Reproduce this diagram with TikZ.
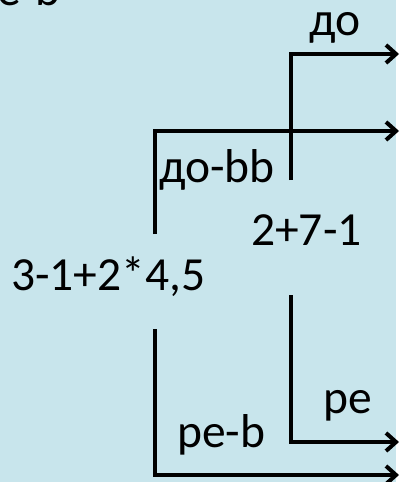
\documentclass[tikz,border=0pt]{standalone}
\usepackage{fontspec}
\setmainfont{Carlito}
\usetikzlibrary{arrows.meta}
\definecolor{bgblue}{RGB}{200,229,236}
\tikzset{
  lbl/.style={anchor=base west, inner sep=0pt, font=\fontsize{47.5}{50}\selectfont},
  conn/.style={line width=4pt, line join=miter},
  arr/.style={conn, -{Straight Barb[length=10pt,width=18pt,line width=4pt]}}
}
\begin{document}
\begin{tikzpicture}[x=1pt,y=-1pt]
\useasboundingbox (0,0) rectangle (400,482);
\fill[bgblue] (0,0) rectangle (396,482);
\begin{scope}
\clip (0,0) rectangle (400,482);
\node[lbl] (top) at (-3,5) {e-b};
\end{scope}
\node[lbl] (do) at (309,35) {до};
\node[lbl] (dobb) at (159,182) {до-bb};
\node[lbl] (sum) at (251,245) {2+7-1};
\node[lbl] (expr) at (11,290) {3-1+2*4,5};
\node[lbl] (peb) at (177,447) {pe-b};
\node[lbl] (pe) at (323,413) {pe};
\coordinate (a1) at (291,180);
\coordinate (a2) at (291,54);
\coordinate (a3) at (399,54);
\coordinate (b1) at (155,234);
\coordinate (b2) at (155,131);
\coordinate (b3) at (399,131);
\coordinate (c1) at (155,329);
\coordinate (c2) at (155,475);
\coordinate (c3) at (399,475);
\coordinate (d1) at (291,295);
\coordinate (d2) at (291,442);
\coordinate (d3) at (399,442);
\draw[arr] (a1) -- (a2) -- (a3);
\draw[arr] (b1) -- (b2) -- (b3);
\draw[arr] (c1) -- (c2) -- (c3);
\draw[arr] (d1) -- (d2) -- (d3);
\end{tikzpicture}
\end{document}
